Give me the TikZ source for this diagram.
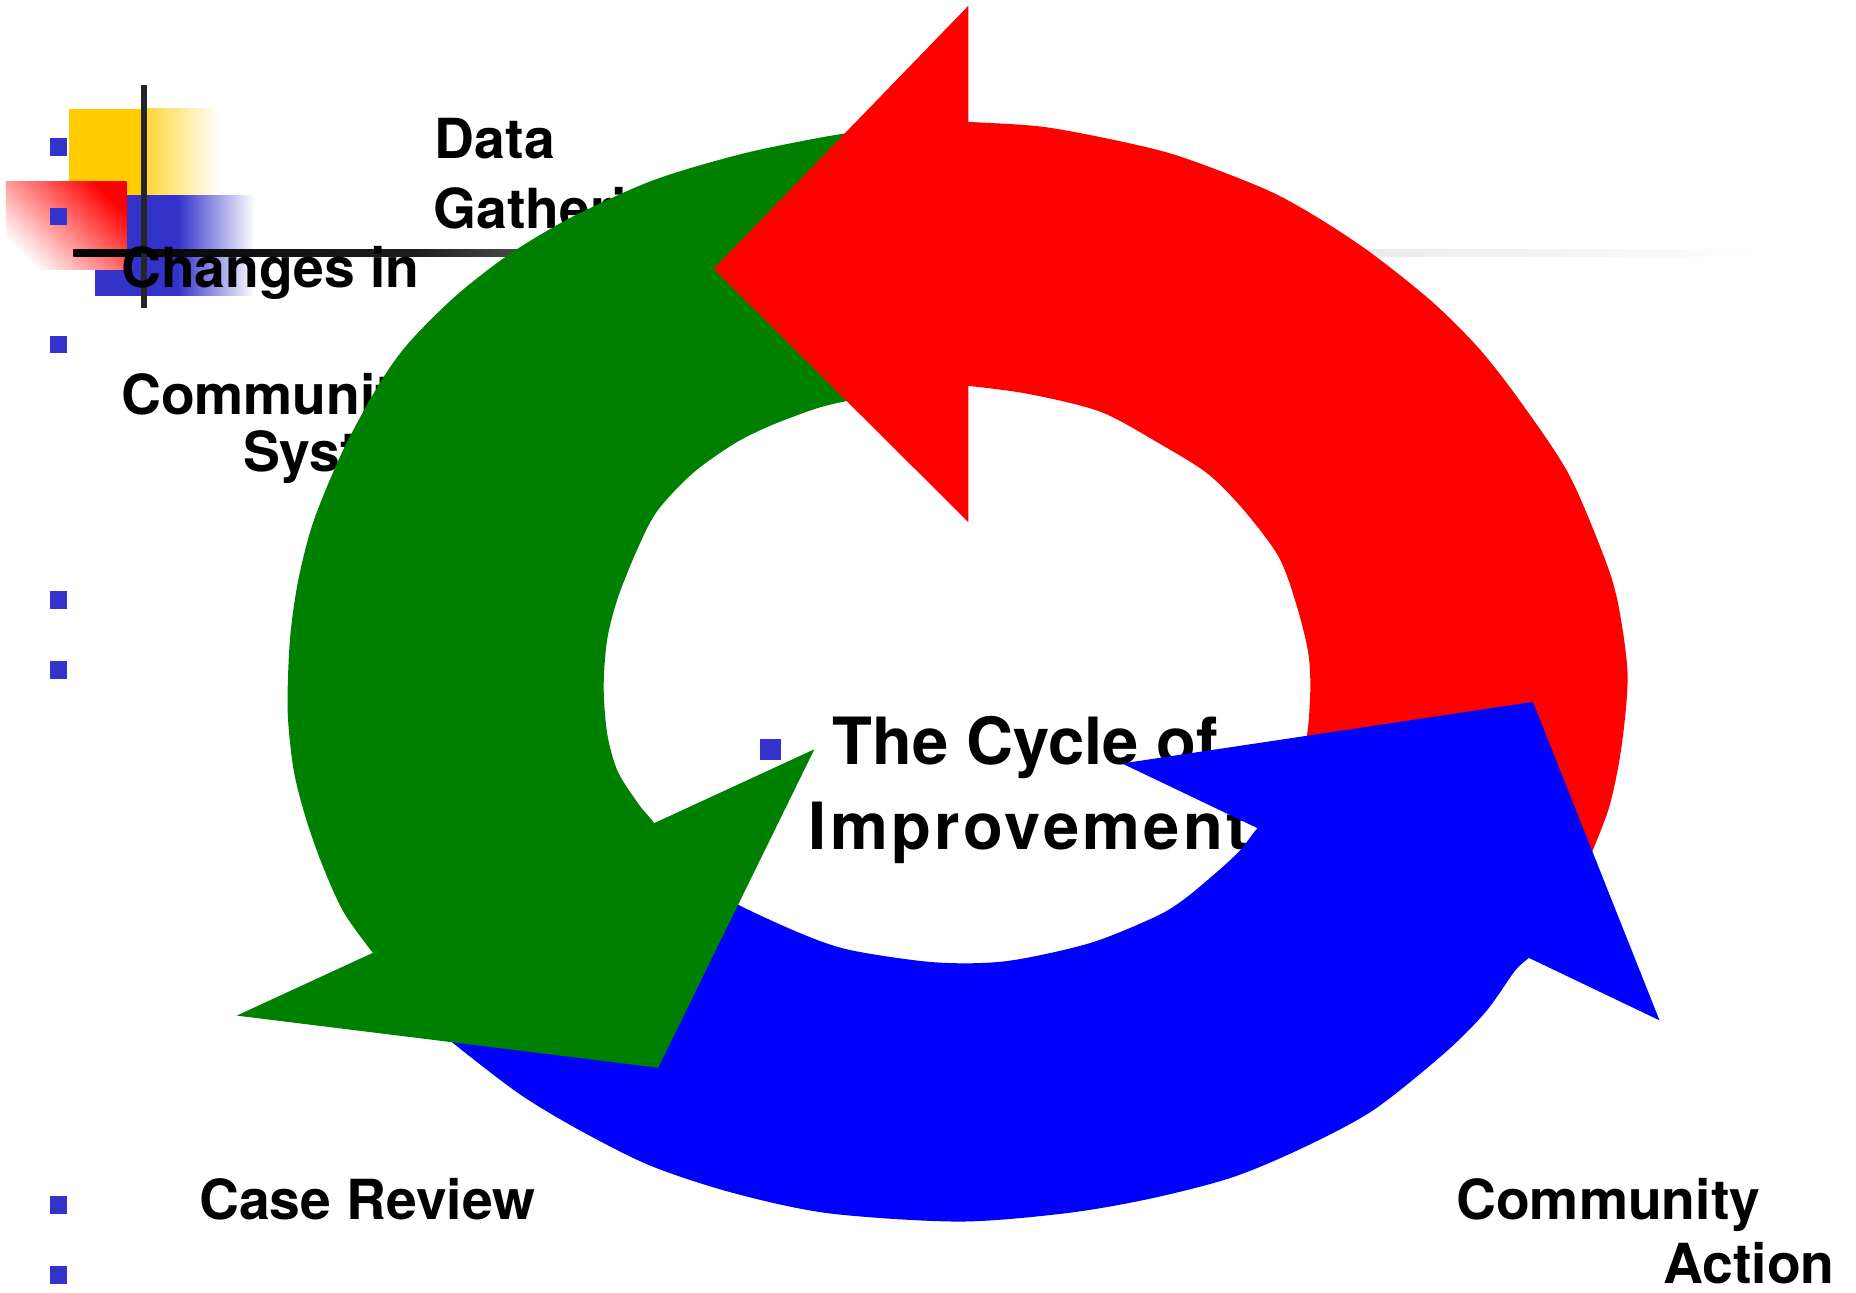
\documentclass[tikz,border=0pt]{standalone}
\usepackage{fontspec}
\setmainfont{TeX Gyre Heros}
\definecolor{bulletblue}{HTML}{3333CC}
\definecolor{ringred}{HTML}{FF0000}
\definecolor{ringgreen}{HTML}{008000}
\definecolor{ringblue}{HTML}{0000FF}
\definecolor{decoyellow}{HTML}{FFCC00}
\definecolor{decoblue}{HTML}{3333CC}
% fading rule: dark on the left, dying out to the right
\pgfdeclarehorizontalshading{rulefade}{100bp}{color(0bp)=(black); color(25bp)=(black); color(35bp)=(black!88); color(40bp)=(black!62); color(55bp)=(black!25); color(63bp)=(black!8); color(75bp)=(white); color(100bp)=(white)}
\begin{document}
\begin{tikzpicture}[x=0.6pt,y=-0.6pt,
  lbl/.style={anchor=base west, inner sep=0pt, font=\bfseries\fontsize{28}{34}\selectfont},
  bigl/.style={anchor=base west, inner sep=0pt, font=\bfseries\fontsize{33}{40}\selectfont},
  bullet/.style={fill=bulletblue, minimum size=9pt, inner sep=0pt, outer sep=0pt, draw=none},
  bigbullet/.style={bullet, minimum size=10.8pt}]
\useasboundingbox (0,0) rectangle (1568,1092);

% corner ornament
\fill[decoyellow] (58,92) rectangle (122,165);
\shade[left color=decoyellow!80, right color=white] (122,92) rectangle (185,165);
\fill[decoblue] (80,165) rectangle (150,250);
\shade[left color=decoblue, right color=white] (150,165) rectangle (215,250);
\shade[top color=ringred, bottom color=white, shading angle=-45] (5,153) rectangle (107,228);
\shade[shading=rulefade] (62,211) rectangle (1500,217);
\fill[black!85] (119,72) rectangle (124,260);

% bullets
\node[bullet] (b1) at (49.5,124) {};
\node[bullet] (b2) at (49.5,183) {};
\node[bullet] (b3) at (49.5,291) {};
\node[bullet] (b4) at (49.5,507) {};
\node[bullet] (b5) at (49.5,566) {};
\node[bullet] (b6) at (49.5,1018) {};
\node[bullet] (b7) at (49.5,1077) {};
\node[bigbullet] (b8) at (651,633) {};

% labels
\node[lbl] (data) at (367,134) {Data};
\node[lbl] (gath) at (366,193) {Gathering};
\node[lbl] (chg) at (102,243) {Changes in};
\node[lbl] (comm) at (102,350) {Community};
\node[lbl] (sys) at (205,398) {Systems};
\node[lbl] (case) at (168,1030) {Case Review};
\node[lbl] (cact1) at (1230,1030) {Community};
\node[lbl] (cact2) at (1405,1084) {Action};
\node[bigl] (cyc1) at (703,646) {The Cycle of};
\node[bigl] (cyc2) at (683,718) {\addfontfeatures{LetterSpace=5}Improvement};

% ring bodies
\fill[ringred] plot[smooth] coordinates {(805,103) (818,103) (880,107) (940,118) (990,130) (1040,148) (1080,165) (1120,188) (1160,215) (1210,255) (1250,295) (1285,340) (1325,400) (1355,470) (1367,510) (1375,570) (1370,630) (1360,680) (1345,720) (1335,745)}
  -- plot[smooth] coordinates {(1100,640) (1105,615) (1107,580) (1105,550) (1095,510) (1080,470) (1050,430) (1020,400) (980,375) (930,348) (870,333) (818,326) (805,326)} -- cycle;
\fill[ringgreen] plot[smooth] coordinates {(760,106) (700,115) (635,128) (580,143) (540,157) (480,185) (430,215) (385,250) (345,290) (320,325) (290,380) (265,440) (252,490) (245,540) (243,600) (248,650) (258,690) (272,730) (290,770) (315,805) (330,822)}
  -- plot[smooth] coordinates {(565,712) (550,692) (540,680) (522,652) (513,620) (510,580) (513,540) (522,505) (538,465) (555,432) (585,400) (620,375) (650,360) (690,345) (720,338) (760,333)} -- cycle;
\fill[ringblue] plot[smooth] coordinates {(360,862) (390,887) (440,925) (490,955) (550,985) (620,1008) (700,1025) (810,1032) (900,1025) (970,1013) (1040,995) (1100,970) (1160,938) (1220,890) (1255,855) (1280,820) (1293,808) (1305,795)}
  -- plot[smooth] coordinates {(1075,688) (1062,700) (1048,718) (1030,735) (1000,760) (975,775) (920,797) (850,812) (790,813) (720,803) (680,790) (625,765) (600,748)} -- cycle;

% arrow heads
\fill[ringred] (818,5) -- (603,227) -- (818,441) -- cycle;
\fill[ringgreen] (200,858) -- (556,902) -- (688,633) -- cycle;
\fill[ringblue] (948,645) -- (1295,593) -- (1402,862) -- cycle;
\end{tikzpicture}
\end{document}
